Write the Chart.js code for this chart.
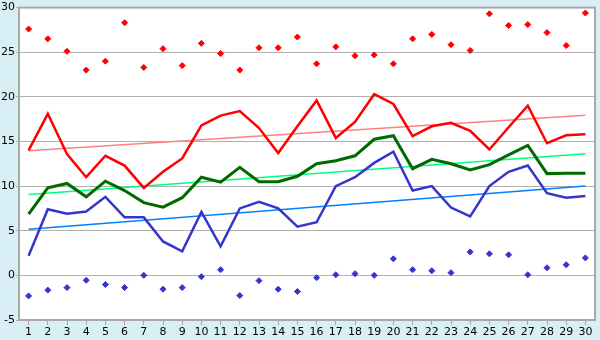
<!DOCTYPE html>
<html>
<head>
<meta charset="utf-8">
<script src="https://cdn.jsdelivr.net/npm/chart.js@4"></script>
<style>
  html, body { margin: 0; padding: 0; background: #d9eff6; }
  #wrap { width: 600px; height: 340px; }
</style>
</head>
<body>
<div id="wrap"><canvas id="lineChart" width="600" height="340"></canvas></div>
<script>
// x categories
const days = ["1","2","3","4","5","6","7","8","9","10","11","12","13","14","15",
  "16","17","18","19","20","21","22","23","24","25","26","27","28","29","30"];

// lines
const maxLine = [14.0, 18.1, 13.6, 11.0, 13.4, 12.3, 9.8, 11.6, 13.1, 16.8,
  17.9, 18.4, 16.5, 13.7, 16.7, 19.6, 15.4, 17.2, 20.3, 19.2,
  15.6, 16.7, 17.1, 16.2, 14.1, 16.6, 19.0, 14.8, 15.7, 15.8];
const meanLine = [6.85, 9.8, 10.3, 8.8, 10.55, 9.5, 8.15, 7.65, 8.7, 11.0,
  10.45, 12.1, 10.5, 10.5, 11.1, 12.5, 12.85, 13.4, 15.25, 15.65,
  11.95, 13.0, 12.5, 11.8, 12.4, 13.5, 14.55, 11.4, 11.45, 11.45];
const minLine = [2.2, 7.4, 6.9, 7.15, 8.8, 6.5, 6.5, 3.8, 2.7, 7.1,
  3.25, 7.5, 8.25, 7.5, 5.45, 5.95, 10.0, 11.0, 12.6, 13.85,
  9.5, 10.0, 7.6, 6.6, 10.0, 11.6, 12.3, 9.2, 8.7, 8.9];

// scatter points
const highPoints = [27.6, 26.5, 25.1, 23.0, 24.0, 28.3, 23.3, 25.4, 23.5, 26.0,
  24.85, 23.0, 25.5, 25.5, 26.7, 23.7, 25.6, 24.6, 24.7, 23.7,
  26.5, 27.0, 25.85, 25.2, 29.3, 28.0, 28.1, 27.2, 25.75, 29.4];
const lowPoints = [-2.3, -1.65, -1.37, -0.55, -1.03, -1.37, 0.0, -1.55, -1.37, -0.15,
  0.63, -2.26, -0.59, -1.55, -1.81, -0.26, 0.07, 0.19, 0.0, 1.85,
  0.63, 0.52, 0.3, 2.63, 2.41, 2.3, 0.07, 0.85, 1.19, 1.96];

// trend lines, start and end
const maxTrend = [13.95, 17.95];
const meanTrend = [9.07, 13.63];
const minTrend = [5.18, 10.0];

const yTicks = { min: -5, max: 30, step: 5 };

const trend = (ends) => [
  { x: days[0], y: ends[0] },
  { x: days[days.length - 1], y: ends[1] },
];

// paint page + white plot + frame
const framePlugin = {
  id: "frame",
  beforeDraw(chart) {
    const { ctx, chartArea: a } = chart;
    ctx.save();
    ctx.fillStyle = "#d9eff6";
    ctx.fillRect(0, 0, chart.width, chart.height);
    ctx.fillStyle = "#ffffff";
    ctx.fillRect(a.left, a.top, a.right - a.left, a.bottom - a.top);
    ctx.restore();
  },
  afterDraw(chart) {
    const { ctx, chartArea: a } = chart;
    ctx.save();
    ctx.strokeStyle = "#a8a8a8";
    ctx.lineWidth = 2;
    ctx.strokeRect(a.left, a.top, a.right - a.left, a.bottom - a.top);
    ctx.restore();
  },
};

const lineDs = (label, data, color, width) => ({
  label, data, borderColor: color, backgroundColor: color,
  borderWidth: width, pointRadius: 0, tension: 0, fill: false,
});

const dotDs = (label, data, color) => ({
  label, data, showLine: false, borderColor: color, backgroundColor: color,
  pointStyle: "rectRot", pointRadius: 3, borderWidth: 1,
});

new Chart(document.getElementById("lineChart"), {
  type: "line",
  data: {
    labels: days,
    datasets: [
      lineDs("Max", maxLine, "#ff0000", 2.5),
      lineDs("Mean", meanLine, "#006a00", 3),
      lineDs("Min", minLine, "#3535cc", 2.5),
      dotDs("High", highPoints, "#ff0000"),
      dotDs("Low", lowPoints, "#3535cc"),
      lineDs("Max trend", trend(maxTrend), "#ff8080", 1.5),
      lineDs("Mean trend", trend(meanTrend), "#00ff80", 1.5),
      lineDs("Min trend", trend(minTrend), "#0080ff", 1.5),
    ],
  },
  options: {
    responsive: false,
    animation: false,
    layout: { padding: { top: 5, right: 5, left: 0, bottom: 0 } },
    plugins: { legend: { display: false }, tooltip: { enabled: false } },
    scales: {
      x: {
        offset: true,
        grid: { drawOnChartArea: false, drawTicks: true, tickLength: 5, color: "#a8a8a8" },
        border: { display: false },
        ticks: {
          color: "#000", padding: 1, maxRotation: 0, autoSkip: false,
          font: { family: "DejaVu Sans", size: 11 },
        },
        afterFit(scale) { scale.height = 20; },
      },
      y: {
        min: yTicks.min,
        max: yTicks.max,
        grid: { color: "#b0b0b0", lineWidth: 1, tickLength: 3 },
        border: { display: false },
        ticks: {
          stepSize: yTicks.step, color: "#000", padding: 1,
          font: { family: "DejaVu Sans", size: 11 },
        },
        afterFit(scale) { scale.width = 19; },
      },
    },
  },
  plugins: [framePlugin],
});
</script>
</body>
</html>
